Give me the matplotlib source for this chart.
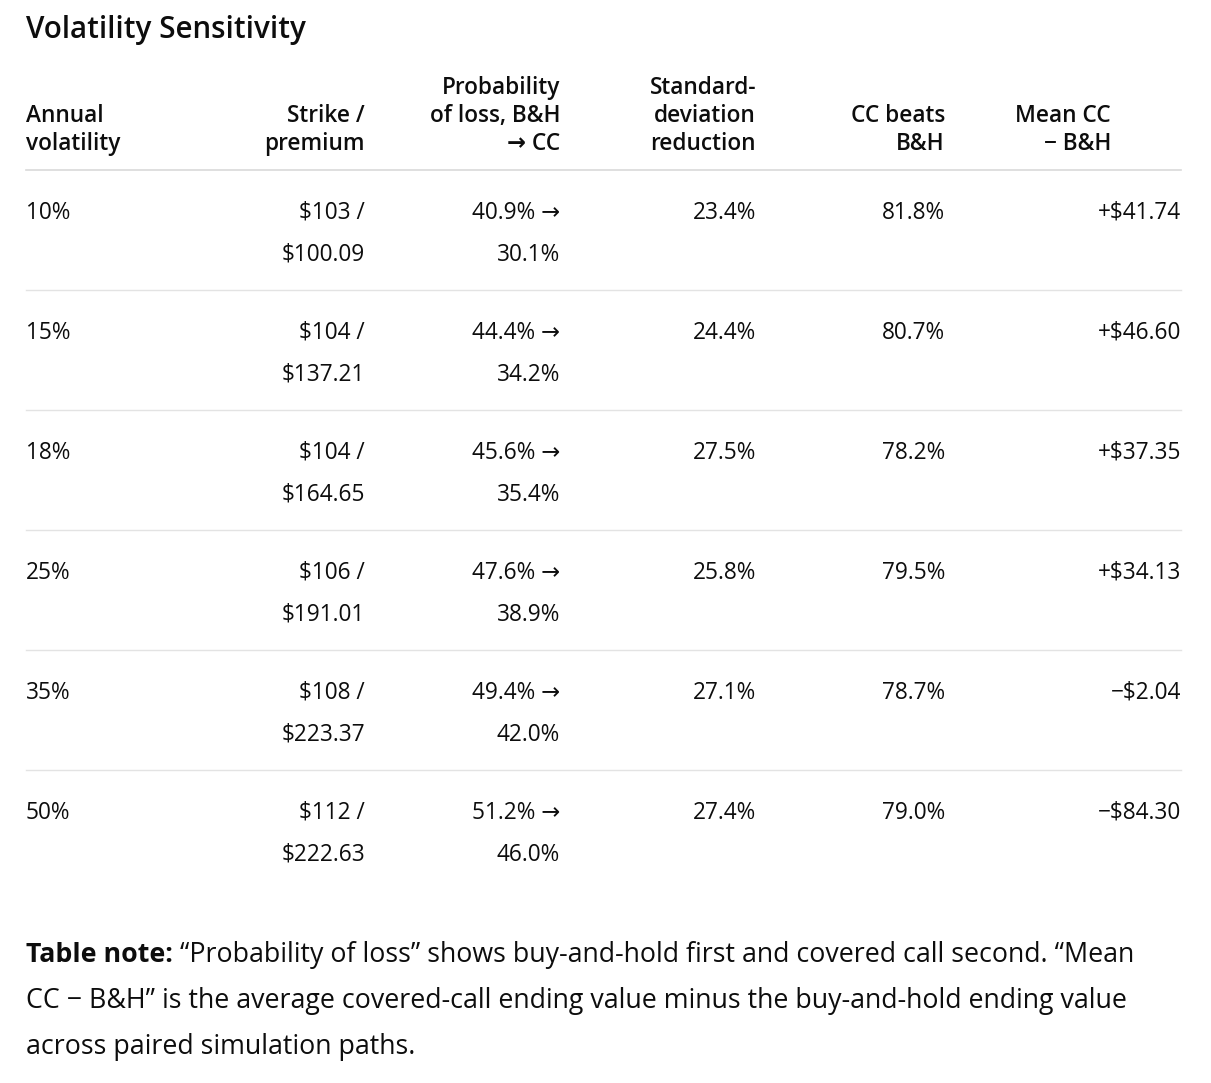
import matplotlib
matplotlib.use("Agg")
import matplotlib.pyplot as plt

plt.rcParams['font.family'] = ['Open Sans', 'DejaVu Sans']

# data
vols = ["10%", "15%", "18%", "25%", "35%", "50%"]
strikes = [103, 104, 104, 106, 108, 112]
premiums = [100.09, 137.21, 164.65, 191.01, 223.37, 222.63]
loss_bh = [40.9, 44.4, 45.6, 47.6, 49.4, 51.2]
loss_cc = [30.1, 34.2, 35.4, 38.9, 42.0, 46.0]
sd_reduction = [23.4, 24.4, 27.5, 25.8, 27.1, 27.4]
cc_beats = [81.8, 80.7, 78.2, 79.5, 78.7, 79.0]
mean_diff = [41.74, 46.60, 37.35, 34.13, -2.04, -84.30]

headers = [
    ["Annual", "volatility"],
    ["Strike /", "premium"],
    ["Probability", "of loss, B&H", "\u2192 CC"],
    ["Standard-", "deviation", "reduction"],
    ["CC beats", "B&H"],
    ["Mean CC", "\u2212 B&H"],
]
title = "Volatility Sensitivity"
note_bold = "Table note:"
note_lines = [
    " \u201cProbability of loss\u201d shows buy-and-hold first and covered call second. \u201cMean",
    "CC \u2212 B&H\u201d is the average covered-call ending value minus the buy-and-hold ending value",
    "across paired simulation paths.",
]

# layout (pixels)
W, H = 1211, 1083
x_left = 26
col_x = [26, 365, 560, 756, 945, 1181]
hdr_x = [26, 365, 560, 756, 945, 1111]
col_ha = ['left', 'right', 'right', 'right', 'right', 'right']
txt_col = '#0d0d0d'
line_col = '#e3e3e3'
fs_body = 16.3
fs_title = 21.3
fs_note = 19.3

fig = plt.figure(figsize=(W / 100, H / 100), dpi=100)
ax = fig.add_axes([0, 0, 1, 1])
ax.set_xlim(0, W)
ax.set_ylim(H, 0)
ax.axis('off')

ax.text(x_left, 30, title, fontsize=fs_title, fontweight='semibold',
        color=txt_col, ha='left', va='center')

# header, bottom aligned
for hdr, x, ha in zip(headers, hdr_x, col_ha):
    n = len(hdr)
    for i, line in enumerate(hdr):
        y = 144 - (n - 1 - i) * 28
        ax.text(x, y, line, fontsize=fs_body, fontweight='semibold',
                color=txt_col, ha=ha, va='center')

ax.plot([x_left, 1181], [170, 170], color='#d9d9d9', lw=1.2)

def money(v, sign=False):
    if sign:
        s = '+' if v >= 0 else '\u2212'
        return f"{s}${abs(v):.2f}"
    return f"${v:.2f}"

for r in range(len(vols)):
    y1 = 213 + r * 120
    y2 = y1 + 42
    cells1 = [vols[r], f"${strikes[r]} /", f"{loss_bh[r]:.1f}% \u2192",
              f"{sd_reduction[r]:.1f}%", f"{cc_beats[r]:.1f}%",
              money(mean_diff[r], sign=True)]
    cells2 = [None, money(premiums[r]), f"{loss_cc[r]:.1f}%", None, None, None]
    for c in range(6):
        ax.text(col_x[c], y1, cells1[c], fontsize=fs_body, color=txt_col,
                ha=col_ha[c], va='center')
        if cells2[c]:
            ax.text(col_x[c], y2, cells2[c], fontsize=fs_body, color=txt_col,
                    ha=col_ha[c], va='center')
    if r < len(vols) - 1:
        yl = 290 + r * 120
        ax.plot([x_left, 1181], [yl, yl], color=line_col, lw=1.0)

# note
renderer = fig.canvas.get_renderer()
tb = ax.text(x_left, 955, note_bold, fontsize=fs_note, fontweight='bold',
             color=txt_col, ha='left', va='center')
bb = tb.get_window_extent(renderer=renderer)
ax.text(x_left + bb.width, 955, note_lines[0], fontsize=fs_note,
        color=txt_col, ha='left', va='center')
for i, line in enumerate(note_lines[1:]):
    ax.text(x_left, 1001 + i * 46, line, fontsize=fs_note, color=txt_col,
            ha='left', va='center')

fig.savefig('out.png', dpi=100, facecolor='white')
